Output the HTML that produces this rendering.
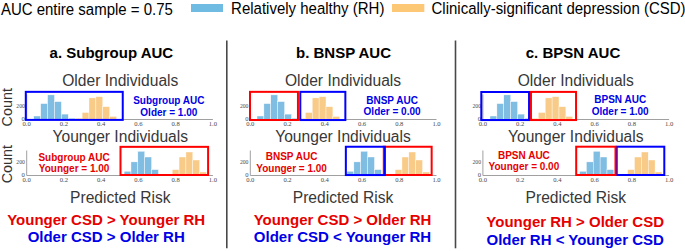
<!DOCTYPE html>
<html><head><meta charset="utf-8"><style>
html,body{margin:0;padding:0;background:#fff;}
svg{display:block;}
text{font-family:"Liberation Sans",sans-serif;}
.hd{font-size:15px;fill:#000;}
.tt{font-size:15px;font-weight:bold;fill:#000;}
.sb{font-size:15.6px;fill:#383838;}
.bt{font-size:15px;font-weight:bold;}
.an{font-size:10px;font-weight:bold;}
.ct{font-size:14.4px;fill:#333;}
.tk{font-family:"Liberation Serif",serif;font-size:6.6px;fill:#4a4a4a;}
</style></head><body>
<svg width="685" height="251" viewBox="0 0 685 251">
<text transform="translate(0.9,15.1) scale(1,1.07)" class="hd">AUC entire sample = 0.75</text>
<rect x="191" y="4" width="32" height="8" fill="#6fbbe2"/>
<text transform="translate(231.1,13.5) scale(1,1.055)" class="hd">Relatively healthy (RH)</text>
<rect x="392" y="4" width="32.3" height="8" fill="#fdc876"/>
<text transform="translate(431.5,13.5) scale(1,1.055)" class="hd">Clinically-significant depression (CSD)</text>
<line x1="226.8" y1="40.5" x2="226.8" y2="248.3" stroke="#484848" stroke-width="1.6"/>
<line x1="455.5" y1="40.5" x2="455.5" y2="248.3" stroke="#484848" stroke-width="1.6"/>
<text x="111.4" y="58.2" class="tt" text-anchor="middle">a. Subgroup AUC</text>
<text x="120.3" y="85.6" class="sb" text-anchor="middle">Older Individuals</text>
<text x="120.3" y="141.9" class="sb" text-anchor="middle">Younger Individuals</text>
<text x="120.3" y="202.8" class="sb" text-anchor="middle">Predicted Risk</text>
<text x="106.2" y="224.6" class="bt" text-anchor="middle" fill="#e60000">Younger CSD &gt; Younger RH</text>
<text x="106.2" y="241.9" class="bt" text-anchor="middle" fill="#0000e6">Older CSD &gt; Older RH</text>
<rect x="33.80" y="116.00" width="6.90" height="3.50" fill="#80bde3" stroke="#fff" stroke-width="0.4"/>
<rect x="40.70" y="103.60" width="6.90" height="15.90" fill="#80bde3" stroke="#fff" stroke-width="0.4"/>
<rect x="47.60" y="94.90" width="6.90" height="24.60" fill="#80bde3" stroke="#fff" stroke-width="0.4"/>
<rect x="54.50" y="101.60" width="6.90" height="17.90" fill="#80bde3" stroke="#fff" stroke-width="0.4"/>
<rect x="61.40" y="114.10" width="6.90" height="5.40" fill="#80bde3" stroke="#fff" stroke-width="0.4"/>
<rect x="68.30" y="118.20" width="6.90" height="1.30" fill="#80bde3" stroke="#fff" stroke-width="0.4"/>
<rect x="75.20" y="118.20" width="6.90" height="1.30" fill="#f9cb88" stroke="#fff" stroke-width="0.4"/>
<rect x="82.10" y="112.50" width="6.90" height="7.00" fill="#f9cb88" stroke="#fff" stroke-width="0.4"/>
<rect x="89.00" y="97.90" width="6.90" height="21.60" fill="#f9cb88" stroke="#fff" stroke-width="0.4"/>
<rect x="95.90" y="96.70" width="6.90" height="22.80" fill="#f9cb88" stroke="#fff" stroke-width="0.4"/>
<rect x="102.80" y="106.70" width="6.90" height="12.80" fill="#f9cb88" stroke="#fff" stroke-width="0.4"/>
<rect x="109.70" y="116.40" width="6.90" height="3.10" fill="#f9cb88" stroke="#fff" stroke-width="0.4"/>
<line x1="26.70" y1="119.50" x2="212.90" y2="119.50" stroke="#a0a0a0" stroke-width="1"/>
<line x1="26.70" y1="94.50" x2="26.70" y2="119.50" stroke="#a0a0a0" stroke-width="1"/>
<text x="26.70" y="125.90" class="tk" text-anchor="middle">0.0</text>
<text x="63.94" y="125.90" class="tk" text-anchor="middle">0.2</text>
<text x="101.18" y="125.90" class="tk" text-anchor="middle">0.4</text>
<text x="138.42" y="125.90" class="tk" text-anchor="middle">0.6</text>
<text x="175.66" y="125.90" class="tk" text-anchor="middle">0.8</text>
<text x="212.90" y="125.90" class="tk" text-anchor="middle">1.0</text>
<text x="24.90" y="121.10" class="tk" text-anchor="end">0</text>
<text x="24.80" y="107.70" class="tk" text-anchor="end" textLength="8.5" lengthAdjust="spacingAndGlyphs">200</text>
<rect x="124.10" y="171.30" width="6.87" height="4.20" fill="#80bde3" stroke="#fff" stroke-width="0.4"/>
<rect x="130.97" y="161.90" width="6.87" height="13.60" fill="#80bde3" stroke="#fff" stroke-width="0.4"/>
<rect x="137.84" y="151.30" width="6.87" height="24.20" fill="#80bde3" stroke="#fff" stroke-width="0.4"/>
<rect x="144.71" y="157.00" width="6.87" height="18.50" fill="#80bde3" stroke="#fff" stroke-width="0.4"/>
<rect x="151.58" y="169.60" width="6.87" height="5.90" fill="#80bde3" stroke="#fff" stroke-width="0.4"/>
<rect x="172.19" y="169.60" width="6.87" height="5.90" fill="#f9cb88" stroke="#fff" stroke-width="0.4"/>
<rect x="179.06" y="157.00" width="6.87" height="18.50" fill="#f9cb88" stroke="#fff" stroke-width="0.4"/>
<rect x="185.93" y="152.00" width="6.87" height="23.50" fill="#f9cb88" stroke="#fff" stroke-width="0.4"/>
<rect x="192.80" y="160.00" width="6.87" height="15.50" fill="#f9cb88" stroke="#fff" stroke-width="0.4"/>
<rect x="199.67" y="172.00" width="6.87" height="3.50" fill="#f9cb88" stroke="#fff" stroke-width="0.4"/>
<line x1="26.70" y1="175.50" x2="212.90" y2="175.50" stroke="#a0a0a0" stroke-width="1"/>
<line x1="26.70" y1="150.50" x2="26.70" y2="175.50" stroke="#a0a0a0" stroke-width="1"/>
<text x="26.70" y="181.90" class="tk" text-anchor="middle">0.0</text>
<text x="63.94" y="181.90" class="tk" text-anchor="middle">0.2</text>
<text x="101.18" y="181.90" class="tk" text-anchor="middle">0.4</text>
<text x="138.42" y="181.90" class="tk" text-anchor="middle">0.6</text>
<text x="175.66" y="181.90" class="tk" text-anchor="middle">0.8</text>
<text x="212.90" y="181.90" class="tk" text-anchor="middle">1.0</text>
<text x="24.90" y="177.10" class="tk" text-anchor="end">0</text>
<text x="24.80" y="163.70" class="tk" text-anchor="end" textLength="8.5" lengthAdjust="spacingAndGlyphs">200</text>
<text x="343.5" y="57.6" class="tt" text-anchor="middle">b. BNSP AUC</text>
<text x="343.0" y="85.6" class="sb" text-anchor="middle">Older Individuals</text>
<text x="343.0" y="141.9" class="sb" text-anchor="middle">Younger Individuals</text>
<text x="343.0" y="202.6" class="sb" text-anchor="middle">Predicted Risk</text>
<text x="342.5" y="224.7" class="bt" text-anchor="middle" fill="#e60000">Younger CSD &gt; Older RH</text>
<text x="342.5" y="241.9" class="bt" text-anchor="middle" fill="#0000e6">Older CSD &lt; Younger RH</text>
<rect x="257.00" y="116.00" width="6.90" height="3.50" fill="#80bde3" stroke="#fff" stroke-width="0.4"/>
<rect x="263.90" y="103.60" width="6.90" height="15.90" fill="#80bde3" stroke="#fff" stroke-width="0.4"/>
<rect x="270.80" y="94.90" width="6.90" height="24.60" fill="#80bde3" stroke="#fff" stroke-width="0.4"/>
<rect x="277.70" y="101.60" width="6.90" height="17.90" fill="#80bde3" stroke="#fff" stroke-width="0.4"/>
<rect x="284.60" y="114.10" width="6.90" height="5.40" fill="#80bde3" stroke="#fff" stroke-width="0.4"/>
<rect x="291.50" y="118.20" width="6.90" height="1.30" fill="#80bde3" stroke="#fff" stroke-width="0.4"/>
<rect x="298.40" y="118.20" width="6.90" height="1.30" fill="#f9cb88" stroke="#fff" stroke-width="0.4"/>
<rect x="305.30" y="112.50" width="6.90" height="7.00" fill="#f9cb88" stroke="#fff" stroke-width="0.4"/>
<rect x="312.20" y="97.90" width="6.90" height="21.60" fill="#f9cb88" stroke="#fff" stroke-width="0.4"/>
<rect x="319.10" y="96.70" width="6.90" height="22.80" fill="#f9cb88" stroke="#fff" stroke-width="0.4"/>
<rect x="326.00" y="106.70" width="6.90" height="12.80" fill="#f9cb88" stroke="#fff" stroke-width="0.4"/>
<rect x="332.90" y="116.40" width="6.90" height="3.10" fill="#f9cb88" stroke="#fff" stroke-width="0.4"/>
<line x1="250.30" y1="119.50" x2="436.50" y2="119.50" stroke="#a0a0a0" stroke-width="1"/>
<line x1="250.30" y1="94.50" x2="250.30" y2="119.50" stroke="#a0a0a0" stroke-width="1"/>
<text x="250.30" y="125.90" class="tk" text-anchor="middle">0.0</text>
<text x="287.54" y="125.90" class="tk" text-anchor="middle">0.2</text>
<text x="324.78" y="125.90" class="tk" text-anchor="middle">0.4</text>
<text x="362.02" y="125.90" class="tk" text-anchor="middle">0.6</text>
<text x="399.26" y="125.90" class="tk" text-anchor="middle">0.8</text>
<text x="436.50" y="125.90" class="tk" text-anchor="middle">1.0</text>
<text x="248.50" y="121.10" class="tk" text-anchor="end">0</text>
<text x="248.40" y="107.70" class="tk" text-anchor="end" textLength="8.5" lengthAdjust="spacingAndGlyphs">200</text>
<rect x="347.00" y="171.30" width="6.87" height="4.20" fill="#80bde3" stroke="#fff" stroke-width="0.4"/>
<rect x="353.87" y="161.90" width="6.87" height="13.60" fill="#80bde3" stroke="#fff" stroke-width="0.4"/>
<rect x="360.74" y="151.30" width="6.87" height="24.20" fill="#80bde3" stroke="#fff" stroke-width="0.4"/>
<rect x="367.61" y="157.00" width="6.87" height="18.50" fill="#80bde3" stroke="#fff" stroke-width="0.4"/>
<rect x="374.48" y="169.60" width="6.87" height="5.90" fill="#80bde3" stroke="#fff" stroke-width="0.4"/>
<rect x="395.09" y="169.60" width="6.87" height="5.90" fill="#f9cb88" stroke="#fff" stroke-width="0.4"/>
<rect x="401.96" y="157.00" width="6.87" height="18.50" fill="#f9cb88" stroke="#fff" stroke-width="0.4"/>
<rect x="408.83" y="152.00" width="6.87" height="23.50" fill="#f9cb88" stroke="#fff" stroke-width="0.4"/>
<rect x="415.70" y="160.00" width="6.87" height="15.50" fill="#f9cb88" stroke="#fff" stroke-width="0.4"/>
<rect x="422.57" y="172.00" width="6.87" height="3.50" fill="#f9cb88" stroke="#fff" stroke-width="0.4"/>
<line x1="250.30" y1="175.50" x2="436.50" y2="175.50" stroke="#a0a0a0" stroke-width="1"/>
<line x1="250.30" y1="150.50" x2="250.30" y2="175.50" stroke="#a0a0a0" stroke-width="1"/>
<text x="250.30" y="181.90" class="tk" text-anchor="middle">0.0</text>
<text x="287.54" y="181.90" class="tk" text-anchor="middle">0.2</text>
<text x="324.78" y="181.90" class="tk" text-anchor="middle">0.4</text>
<text x="362.02" y="181.90" class="tk" text-anchor="middle">0.6</text>
<text x="399.26" y="181.90" class="tk" text-anchor="middle">0.8</text>
<text x="436.50" y="181.90" class="tk" text-anchor="middle">1.0</text>
<text x="248.50" y="177.10" class="tk" text-anchor="end">0</text>
<text x="248.40" y="163.70" class="tk" text-anchor="end" textLength="8.5" lengthAdjust="spacingAndGlyphs">200</text>
<text x="573.0" y="58.2" class="tt" text-anchor="middle">c. BPSN AUC</text>
<text x="575.8" y="85.6" class="sb" text-anchor="middle">Older Individuals</text>
<text x="575.8" y="141.9" class="sb" text-anchor="middle">Younger Individuals</text>
<text x="575.8" y="203.3" class="sb" text-anchor="middle">Predicted Risk</text>
<text x="575.2" y="226.7" class="bt" text-anchor="middle" fill="#e60000">Younger RH &gt; Older CSD</text>
<text x="575.2" y="244.6" class="bt" text-anchor="middle" fill="#0000e6">Older RH &lt; Younger CSD</text>
<rect x="490.00" y="116.00" width="6.90" height="3.50" fill="#80bde3" stroke="#fff" stroke-width="0.4"/>
<rect x="496.90" y="103.60" width="6.90" height="15.90" fill="#80bde3" stroke="#fff" stroke-width="0.4"/>
<rect x="503.80" y="94.90" width="6.90" height="24.60" fill="#80bde3" stroke="#fff" stroke-width="0.4"/>
<rect x="510.70" y="101.60" width="6.90" height="17.90" fill="#80bde3" stroke="#fff" stroke-width="0.4"/>
<rect x="517.60" y="114.10" width="6.90" height="5.40" fill="#80bde3" stroke="#fff" stroke-width="0.4"/>
<rect x="524.50" y="118.20" width="6.90" height="1.30" fill="#80bde3" stroke="#fff" stroke-width="0.4"/>
<rect x="531.40" y="118.20" width="6.90" height="1.30" fill="#f9cb88" stroke="#fff" stroke-width="0.4"/>
<rect x="538.30" y="112.50" width="6.90" height="7.00" fill="#f9cb88" stroke="#fff" stroke-width="0.4"/>
<rect x="545.20" y="97.90" width="6.90" height="21.60" fill="#f9cb88" stroke="#fff" stroke-width="0.4"/>
<rect x="552.10" y="96.70" width="6.90" height="22.80" fill="#f9cb88" stroke="#fff" stroke-width="0.4"/>
<rect x="559.00" y="106.70" width="6.90" height="12.80" fill="#f9cb88" stroke="#fff" stroke-width="0.4"/>
<rect x="565.90" y="116.40" width="6.90" height="3.10" fill="#f9cb88" stroke="#fff" stroke-width="0.4"/>
<line x1="482.90" y1="119.50" x2="669.10" y2="119.50" stroke="#a0a0a0" stroke-width="1"/>
<line x1="482.90" y1="94.50" x2="482.90" y2="119.50" stroke="#a0a0a0" stroke-width="1"/>
<text x="482.90" y="125.90" class="tk" text-anchor="middle">0.0</text>
<text x="520.14" y="125.90" class="tk" text-anchor="middle">0.2</text>
<text x="557.38" y="125.90" class="tk" text-anchor="middle">0.4</text>
<text x="594.62" y="125.90" class="tk" text-anchor="middle">0.6</text>
<text x="631.86" y="125.90" class="tk" text-anchor="middle">0.8</text>
<text x="669.10" y="125.90" class="tk" text-anchor="middle">1.0</text>
<text x="481.10" y="121.10" class="tk" text-anchor="end">0</text>
<text x="481.00" y="107.70" class="tk" text-anchor="end" textLength="8.5" lengthAdjust="spacingAndGlyphs">200</text>
<rect x="579.50" y="171.30" width="6.87" height="4.20" fill="#80bde3" stroke="#fff" stroke-width="0.4"/>
<rect x="586.37" y="161.90" width="6.87" height="13.60" fill="#80bde3" stroke="#fff" stroke-width="0.4"/>
<rect x="593.24" y="151.30" width="6.87" height="24.20" fill="#80bde3" stroke="#fff" stroke-width="0.4"/>
<rect x="600.11" y="157.00" width="6.87" height="18.50" fill="#80bde3" stroke="#fff" stroke-width="0.4"/>
<rect x="606.98" y="169.60" width="6.87" height="5.90" fill="#80bde3" stroke="#fff" stroke-width="0.4"/>
<rect x="627.59" y="169.60" width="6.87" height="5.90" fill="#f9cb88" stroke="#fff" stroke-width="0.4"/>
<rect x="634.46" y="157.00" width="6.87" height="18.50" fill="#f9cb88" stroke="#fff" stroke-width="0.4"/>
<rect x="641.33" y="152.00" width="6.87" height="23.50" fill="#f9cb88" stroke="#fff" stroke-width="0.4"/>
<rect x="648.20" y="160.00" width="6.87" height="15.50" fill="#f9cb88" stroke="#fff" stroke-width="0.4"/>
<rect x="655.07" y="172.00" width="6.87" height="3.50" fill="#f9cb88" stroke="#fff" stroke-width="0.4"/>
<line x1="482.90" y1="175.50" x2="669.10" y2="175.50" stroke="#a0a0a0" stroke-width="1"/>
<line x1="482.90" y1="150.50" x2="482.90" y2="175.50" stroke="#a0a0a0" stroke-width="1"/>
<text x="482.90" y="181.90" class="tk" text-anchor="middle">0.0</text>
<text x="520.14" y="181.90" class="tk" text-anchor="middle">0.2</text>
<text x="557.38" y="181.90" class="tk" text-anchor="middle">0.4</text>
<text x="594.62" y="181.90" class="tk" text-anchor="middle">0.6</text>
<text x="631.86" y="181.90" class="tk" text-anchor="middle">0.8</text>
<text x="669.10" y="181.90" class="tk" text-anchor="middle">1.0</text>
<text x="481.10" y="177.10" class="tk" text-anchor="end">0</text>
<text x="481.00" y="163.70" class="tk" text-anchor="end" textLength="8.5" lengthAdjust="spacingAndGlyphs">200</text>
<text transform="translate(12.1,107.2) rotate(-90) scale(1,1.05)" class="ct" text-anchor="middle">Count</text>
<text transform="translate(12.1,164.1) rotate(-90) scale(1,1.05)" class="ct" text-anchor="middle">Count</text>
<rect x="25.80" y="91.85" width="96.95" height="28.05" fill="none" stroke="#0000ff" stroke-width="2.0"/>
<rect x="120.50" y="146.85" width="87.60" height="28.15" fill="none" stroke="#ff0000" stroke-width="2.0"/>
<text x="168.85" y="104.10" class="an" text-anchor="middle" fill="#0000e6">Subgroup AUC</text>
<text x="168.85" y="115.90" class="an" text-anchor="middle" fill="#0000e6">Older = 1.00</text>
<text x="74.10" y="160.50" class="an" text-anchor="middle" fill="#e60000">Subgroup AUC</text>
<text x="74.10" y="172.40" class="an" text-anchor="middle" fill="#e60000">Younger = 1.00</text>
<rect x="250.00" y="91.85" width="47.95" height="28.15" fill="none" stroke="#ff0000" stroke-width="2.0"/>
<rect x="300.30" y="91.85" width="45.05" height="28.20" fill="none" stroke="#0000ff" stroke-width="2.0"/>
<text x="392.10" y="103.70" class="an" text-anchor="middle" fill="#0000e6">BNSP AUC</text>
<text x="392.10" y="115.40" class="an" text-anchor="middle" fill="#0000e6">Older = 0.00</text>
<rect x="383.80" y="146.75" width="47.85" height="28.25" fill="none" stroke="#ff0000" stroke-width="2.0"/>
<rect x="345.85" y="146.75" width="39.05" height="28.30" fill="none" stroke="#0000ff" stroke-width="2.0"/>
<text x="291.60" y="160.20" class="an" text-anchor="middle" fill="#e60000">BNSP AUC</text>
<text x="291.60" y="172.20" class="an" text-anchor="middle" fill="#e60000">Younger = 1.00</text>
<rect x="481.30" y="92.00" width="47.75" height="28.05" fill="none" stroke="#0000ff" stroke-width="2.0"/>
<rect x="530.95" y="91.90" width="45.10" height="28.15" fill="none" stroke="#ff0000" stroke-width="2.0"/>
<text x="620.20" y="103.20" class="an" text-anchor="middle" fill="#0000e6">BPSN AUC</text>
<text x="620.20" y="114.80" class="an" text-anchor="middle" fill="#0000e6">Older = 1.00</text>
<rect x="616.70" y="146.70" width="47.60" height="28.30" fill="none" stroke="#0000ff" stroke-width="2.0"/>
<rect x="576.20" y="146.70" width="39.30" height="28.30" fill="none" stroke="#ff0000" stroke-width="2.0"/>
<text x="523.90" y="158.70" class="an" text-anchor="middle" fill="#e60000">BPSN AUC</text>
<text x="523.90" y="170.40" class="an" text-anchor="middle" fill="#e60000">Younger = 0.00</text>
</svg>
</body></html>
